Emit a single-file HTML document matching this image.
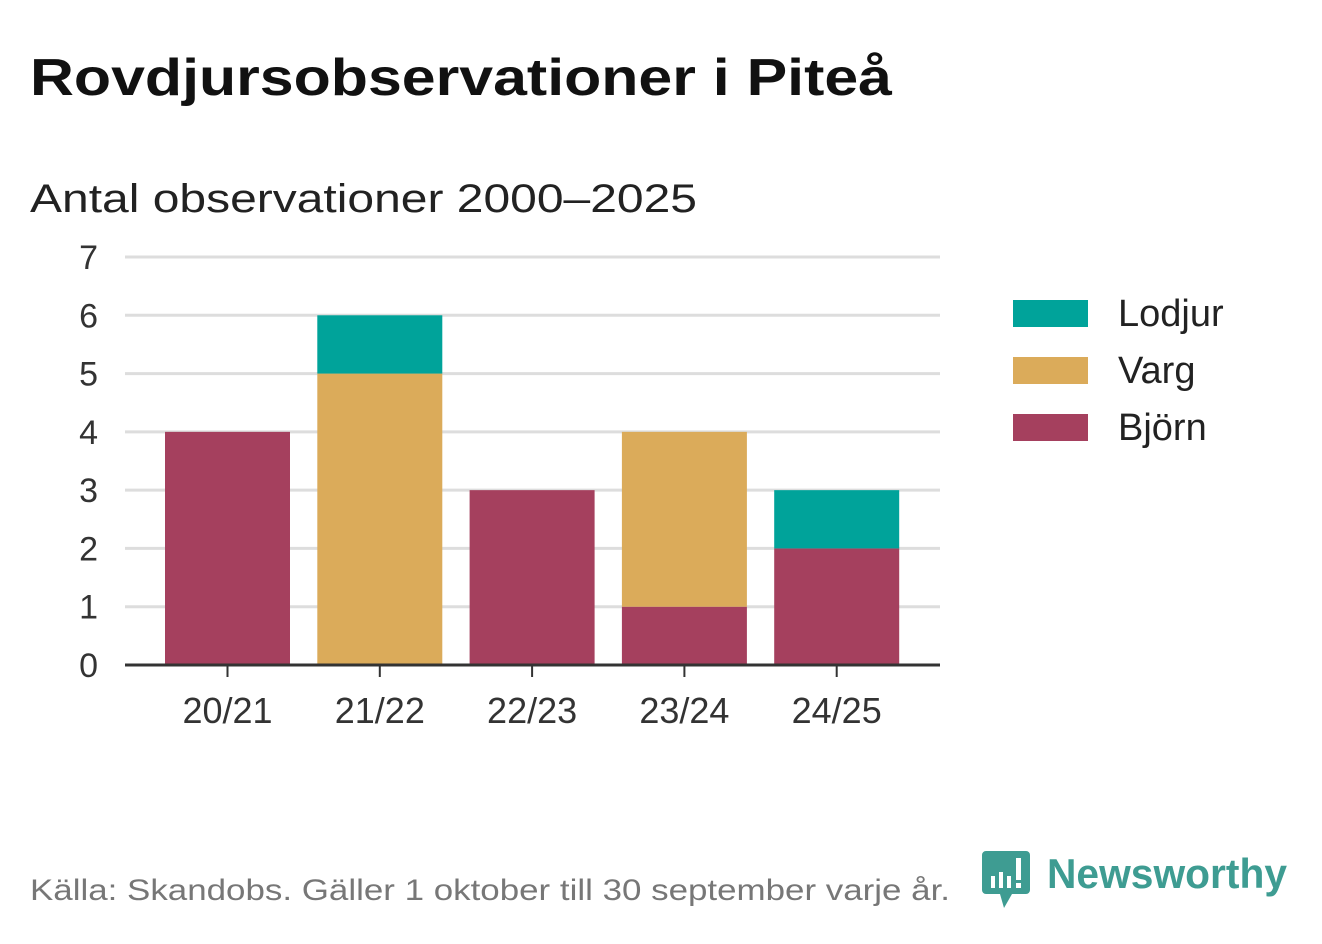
<!DOCTYPE html>
<html><head><meta charset="utf-8"><style>
html,body{margin:0;padding:0;background:#fff;}
body{width:1322px;height:939px;overflow:hidden;font-family:"Liberation Sans",sans-serif;}
</style></head><body>
<svg id="c" width="1322" height="939" xmlns="http://www.w3.org/2000/svg">
<text x="30" y="95" font-size="52" font-weight="bold" fill="#111" textLength="862" lengthAdjust="spacingAndGlyphs">Rovdjursobservationer i Piteå</text>
<text x="30" y="212" font-size="40" fill="#222" textLength="667" lengthAdjust="spacingAndGlyphs">Antal observationer 2000–2025</text>
<g id="grid"></g><g id="bars"></g><g id="axes"></g>
<g id="legend"></g>
<text x="30" y="900" font-size="30" fill="#777" textLength="920" lengthAdjust="spacingAndGlyphs">Källa: Skandobs. Gäller 1 oktober till 30 september varje år.</text>
<g>
<path d="M986 851 h40 a4 4 0 0 1 4 4 v35 a4 4 0 0 1 -4 4 h-14 l-8 14 l-4 -14 h-14 a4 4 0 0 1 -4 -4 v-35 a4 4 0 0 1 4 -4z" fill="#3e9c92"/>
<rect x="991" y="876" width="4" height="12" fill="#fff"/><rect x="999" y="872" width="4" height="16" fill="#fff"/><rect x="1007" y="876" width="4" height="12" fill="#fff"/><rect x="1016" y="858" width="5" height="22" fill="#fff"/><rect x="1016" y="883" width="5" height="5" fill="#fff"/>
<text x="1047" y="888" font-size="42" font-weight="bold" fill="#3e9c92" textLength="240" lengthAdjust="spacingAndGlyphs">Newsworthy</text>
</g>
</svg>
<script>
const categories=["20/21","21/22","22/23","23/24","24/25"];
const bjorn=[4,0,3,1,2];
const varg=[0,5,0,3,0];
const lodjur=[0,1,0,0,1];
const yTicks=[0,1,2,3,4,5,6,7];
const NS="http://www.w3.org/2000/svg";
const x0=125,x1=940,y0=665,y7=257;
const y=v=>y0-(y0-y7)*v/7;
const step=152.3;
const xc=i=>227.5+step*i;
const bw=125;
function mk(t,a,p){const e=document.createElementNS(NS,t);for(const k in a)e.setAttribute(k,a[k]);p.appendChild(e);return e;}
const G=document.getElementById('grid'),B=document.getElementById('bars'),A=document.getElementById('axes'),L=document.getElementById('legend');
yTicks.forEach(v=>{
  if(v>0){const l=mk('line',{x1:x0,x2:x1,y1:y(v),y2:y(v),stroke:'#ddd','stroke-width':3},G);
  
  }
  const t=mk('text',{x:98,y:y(v)+12,'font-size':34,fill:'#333','text-anchor':'end'},A);t.textContent=v;
  
  
});
const series=[["bjorn",bjorn,"#a5405e"],["varg",varg,"#dbab5a"],["lodjur",lodjur,"#00a39a"]];
categories.forEach((c,i)=>{
  let base=0;
  series.forEach(([n,arr,col])=>{
    const v=arr[i];if(v>0){
      const r=mk('rect',{x:xc(i)-bw/2,y:y(base+v),width:bw,height:y(base)-y(base+v),fill:col},B);
      
      
    }
    base+=v;
  });
  mk('line',{x1:xc(i),x2:xc(i),y1:y0,y2:y0+12,stroke:'#333','stroke-width':2},A);
  const t=mk('text',{x:xc(i),y:y0+58,'font-size':36,fill:'#333','text-anchor':'middle'},A);t.textContent=c;
  
  
});
const ax=mk('line',{x1:x0,x2:x1,y1:y0,y2:y0,stroke:'#333','stroke-width':3},A);


[["Lodjur","#00a39a",300],["Varg","#dbab5a",357],["Björn","#a5405e",414]].forEach(([n,col,yy])=>{
  const g=mk('g',{},L);
  
  
  mk('rect',{x:1013,y:yy,width:75,height:27,fill:col},g);
  const t=mk('text',{x:1118,y:yy+26,'font-size':38,fill:'#222'},g);t.textContent=n;
});
</script>
</body></html>
